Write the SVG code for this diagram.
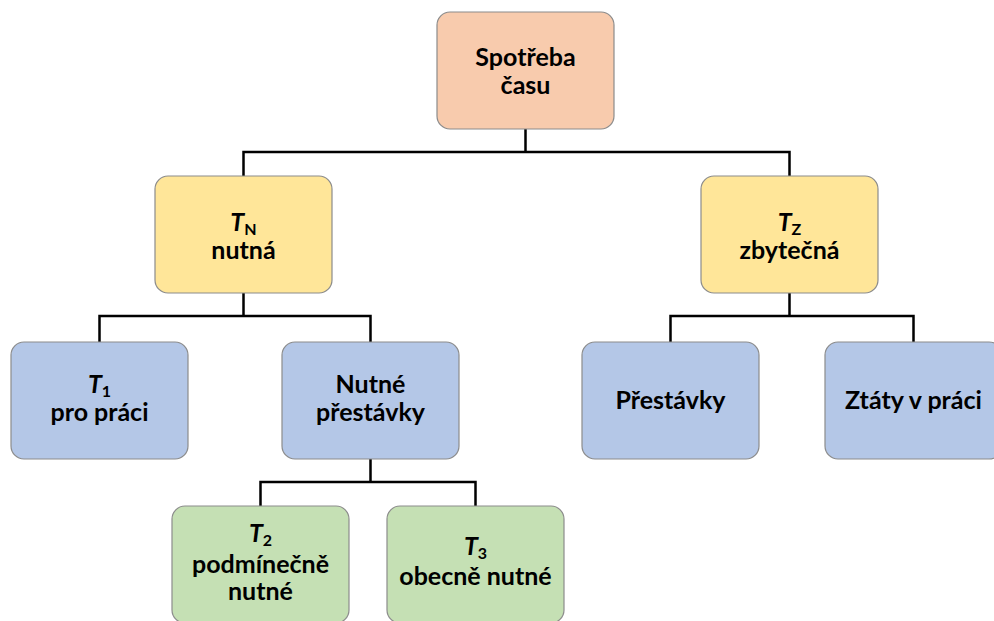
<svg xmlns="http://www.w3.org/2000/svg" width="994" height="621" viewBox="0 0 994 621">
  <style>
    .box { stroke: #8c8c8c; stroke-width: 1.2; }
    .orange { fill: #F8CBAD; }
    .yellow { fill: #FFE699; }
    .blue { fill: #B4C7E7; }
    .green { fill: #C5E0B4; }
    .lbl { font-family: Lato, "Liberation Sans", sans-serif; font-weight: bold; font-size: 25px; fill: #000; text-anchor: middle; }
    .sym { font-style: italic; }
    .sub { font-style: normal; font-size: 16px; }
    .wire { fill: none; stroke: #000; stroke-width: 2.5; }
  </style>

  <!-- tree connectors -->
  <g id="connectors">
    <path class="wire" d="M525.5 129 V152 M243.5 176 V152 H789.5 V176"/>
    <path class="wire" d="M243.5 293 V316 M99.5 342 V316 H370.5 V342"/>
    <path class="wire" d="M789.5 293 V316 M670.5 342 V316 H913.5 V342"/>
    <path class="wire" d="M370.5 459 V482 M260.5 506 V482 H475.5 V506"/>
  </g>

  <g id="spotreba">
    <rect class="box orange" x="437" y="12" width="177" height="117" rx="13"/>
    <text class="lbl" x="525.5" y="66">Spotřeba</text>
    <text class="lbl" x="525.5" y="94">času</text>
  </g>

  <g id="tn">
    <rect class="box yellow" x="155" y="176" width="177" height="117" rx="13"/>
    <text class="lbl" x="243.5" y="231"><tspan class="sym">T</tspan><tspan class="sub" dy="4">N</tspan></text>
    <text class="lbl" x="243.5" y="259">nutná</text>
  </g>

  <g id="tz">
    <rect class="box yellow" x="701" y="176" width="177" height="117" rx="13"/>
    <text class="lbl" x="789.5" y="231"><tspan class="sym">T</tspan><tspan class="sub" dy="4">Z</tspan></text>
    <text class="lbl" x="789.5" y="259">zbytečná</text>
  </g>

  <g id="t1">
    <rect class="box blue" x="11" y="342" width="177" height="117" rx="13"/>
    <text class="lbl" x="99.5" y="393"><tspan class="sym">T</tspan><tspan class="sub" dy="4">1</tspan></text>
    <text class="lbl" x="99.5" y="421">pro práci</text>
  </g>

  <g id="nutne-prestavky">
    <rect class="box blue" x="282" y="342" width="177" height="117" rx="13"/>
    <text class="lbl" x="370.5" y="393">Nutné</text>
    <text class="lbl" x="370.5" y="421">přestávky</text>
  </g>

  <g id="prestavky">
    <rect class="box blue" x="582" y="342" width="177" height="117" rx="13"/>
    <text class="lbl" x="670.5" y="409">Přestávky</text>
  </g>

  <g id="ztaty">
    <rect class="box blue" x="825" y="342" width="177" height="117" rx="13"/>
    <text class="lbl" x="913.5" y="409">Ztáty v práci</text>
  </g>

  <g id="t2">
    <rect class="box green" x="172" y="506" width="177" height="117" rx="13"/>
    <text class="lbl" x="260.5" y="542"><tspan class="sym">T</tspan><tspan class="sub" dy="4">2</tspan></text>
    <text class="lbl" x="260.5" y="573">podmínečně</text>
    <text class="lbl" x="260.5" y="600">nutné</text>
  </g>

  <g id="t3">
    <rect class="box green" x="387" y="506" width="177" height="117" rx="13"/>
    <text class="lbl" x="475.5" y="555"><tspan class="sym">T</tspan><tspan class="sub" dy="4">3</tspan></text>
    <text class="lbl" x="475.5" y="585">obecně nutné</text>
  </g>
</svg>
